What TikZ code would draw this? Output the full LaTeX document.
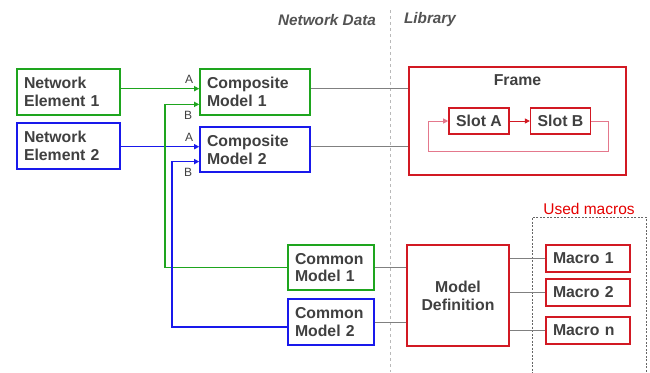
\documentclass[tikz,border=0pt]{standalone}
\usepackage{fontspec}
\setmainfont{Liberation Sans}
\usetikzlibrary{arrows.meta,calc}
\definecolor{grn}{RGB}{30,165,30}
\definecolor{blu}{RGB}{25,25,235}
\definecolor{rd}{RGB}{210,25,35}
\definecolor{pnk}{RGB}{228,120,140}
\definecolor{txt}{RGB}{64,64,64}
\tikzset{
  box/.style={draw=#1, line width=1.6pt, fill=white, text=txt,
    font=\fontsize{15.8}{17.8}\selectfont\bfseries, inner xsep=7pt, inner ysep=0pt},
  link/.style={draw=gray, line width=0.8pt},
  tip/.style={-{Triangle[length=5pt,width=5pt]}},
  port/.style={text=txt, font=\fontsize{12}{12}\selectfont, inner sep=0pt},
  head/.style={text=txt!90, font=\fontsize{15.3}{15}\selectfont\bfseries\itshape},
}
\begin{document}
\begin{tikzpicture}[x=1pt,y=-1pt]
    \useasboundingbox[fill=white] (0,0) rectangle (650,372);

    % headings and divider
    \node[head] (hnet) at (327,20) {Network Data};
    \node[head] (hlib) at (430,20) {Library};
    \draw[gray!55, dashed, line width=0.8pt] (390,10) -- (390,372);

    % Network data side
    \node[box=grn, align=left, text width=89pt, minimum height=46pt] (ne1) at (68.5,92) {Network\\Element 1};
    \node[box=blu, align=left, text width=89pt, minimum height=46pt] (ne2) at (68.5,146) {Network\\Element 2};
    \node[box=grn, align=left, text width=96pt, minimum height=46pt] (cm1) at (255,92) {Composite\\Model 1};
    \node[box=blu, align=left, text width=96pt, minimum height=45pt] (cm2) at (255,149.5) {Composite\\Model 2};
    \node[box=grn, align=left, text width=72pt, minimum height=45pt] (com1) at (331,267.5) {Common\\Model 1};
    \node[box=blu, align=left, text width=72pt, minimum height=46pt] (com2) at (331,322) {Common\\Model 2};

    % ports A / B
    \coordinate (cm1a) at ($(cm1.north west)!.43!(cm1.south west)$);
    \coordinate (cm1b) at ($(cm1.north west)!.76!(cm1.south west)$);
    \coordinate (cm2a) at ($(cm2.north west)!.44!(cm2.south west)$);
    \coordinate (cm2b) at ($(cm2.north west)!.76!(cm2.south west)$);
    \coordinate (com2w) at ($(com2.north west)!.6!(com2.south west)$);
    \node[port] (pa1) at (189,79) {A};
    \node[port] (pb1) at (188,115) {B};
    \node[port] (pa2) at (189,137) {A};
    \node[port] (pb2) at (188,172) {B};

    \draw[grn, line width=1.5pt, tip] (ne1.east |- cm1a) -- (cm1a);
    \draw[blu, line width=1.5pt, tip] (ne2.east |- cm2a) -- (cm2a);
    \draw[grn, line width=1.5pt, tip] (com1.west) -| ($(cm1b)+(-34,0)$) -- (cm1b);
    \draw[blu, line width=1.5pt, tip] (com2w) -| ($(cm2b)+(-27,0)$) -- (cm2b);

    % Library side
    \node[box=rd, line width=2pt, minimum width=217pt, minimum height=108pt] (frame) at (517.5,121) {};
    \node[text=txt, font=\fontsize{15.8}{15}\selectfont\bfseries, anchor=north, inner sep=0pt] (ftitle) at ($(frame.north)+(0,8)$) {Frame};
    \node[box=rd, minimum width=60pt, minimum height=26pt] (slotA) at (479,121) {Slot A};
    \node[box=rd, minimum width=59pt, minimum height=26pt] (slotB) at (560.5,121) {Slot B};
    \draw[rd, line width=0.9pt, tip] (slotA) -- (slotB);
    \coordinate (lr) at (608,151);
    \coordinate (ll) at (428,151);
    \draw[pnk, line width=0.9pt, tip] (slotB.east) -| (lr) -- (ll) |- (slotA.west);

    \node[box=rd, align=center, minimum width=102pt, minimum height=101pt] (mdef) at (458,295.5) {Model\\Definition};
    \node[draw=txt!80, dash pattern=on 2pt off 1.5pt, line width=0.8pt, minimum width=114pt, minimum height=156pt] (used) at (589,295) {};
    \node[text=red!90!black, font=\fontsize{15.5}{15}\selectfont, anchor=south, inner sep=1.5pt] (usedlbl) at (used.north) {Used macros};
    \node[box=rd, align=left, text width=70pt, minimum height=27pt] (mac1) at (588,258.5) {Macro 1};
    \node[box=rd, align=left, text width=70pt, minimum height=27pt] (mac2) at (588,292.5) {Macro 2};
    \node[box=rd, align=left, text width=70pt, minimum height=27pt] (macn) at (588,330.5) {Macro n};

    % gray links
    \draw[link] (cm1.east |- cm1a) -- (frame.west |- cm1a);
    \draw[link] (cm2.east |- cm2a) -- (frame.west |- cm2a);
    \draw[link] (com1.east) -- (com1.east -| mdef.west);
    \draw[link] (com2.east) -- (com2.east -| mdef.west);
    \foreach \m in {mac1,mac2,macn}
        \draw[link] (\m.west -| mdef.east) -- (\m.west);
\end{tikzpicture}
\end{document}
